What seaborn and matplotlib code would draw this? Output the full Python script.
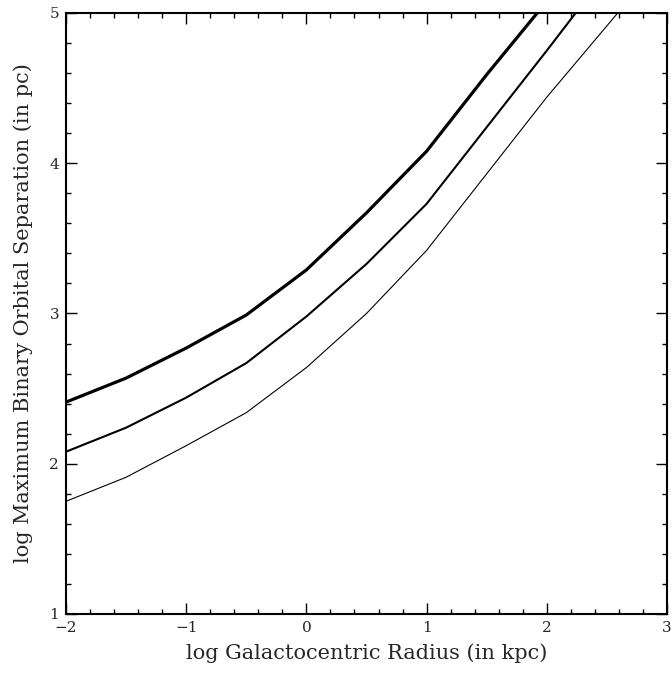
import numpy as np
import pandas as pd
import matplotlib
matplotlib.use("Agg")
import matplotlib.pyplot as plt
import seaborn as sns
from matplotlib.ticker import MultipleLocator

# Data
x_thick = [-2.0, -1.5, -1.0, -0.5, 0.0, 0.5, 1.0, 1.5, 1.92]
y_thick = [2.41, 2.57, 2.77, 2.99, 3.29, 3.67, 4.08, 4.59, 5.00]

x_mid = [-2.0, -1.5, -1.0, -0.5, 0.0, 0.5, 1.0, 1.5, 2.0, 2.24]
y_mid = [2.08, 2.24, 2.44, 2.67, 2.98, 3.33, 3.73, 4.24, 4.75, 5.00]

x_thin = [-2.0, -1.5, -1.0, -0.5, 0.0, 0.5, 1.0, 1.5, 2.0, 2.59]
y_thin = [1.75, 1.91, 2.12, 2.34, 2.64, 3.00, 3.42, 3.93, 4.44, 5.00]

sns.set_style("ticks")
plt.rcParams['font.family'] = ['DejaVu Serif', 'DejaVu Sans']

fig = plt.figure(figsize=(6.72, 6.73), dpi=100)
ax = fig.add_axes([0.0982, 0.0877, 0.8944, 0.8930])

for xs, ys, lw in [(x_thick, y_thick, 2.3), (x_mid, y_mid, 1.5), (x_thin, y_thin, 0.8)]:
    df = pd.DataFrame({"x": xs, "y": ys})
    sns.lineplot(data=df, x="x", y="y", ax=ax, color="black", linewidth=lw, sort=False)

ax.set_xlim(-2, 3)
ax.set_ylim(1, 5)
ax.xaxis.set_major_locator(MultipleLocator(1))
ax.xaxis.set_minor_locator(MultipleLocator(0.2))
ax.yaxis.set_major_locator(MultipleLocator(1))
ax.yaxis.set_minor_locator(MultipleLocator(0.2))
ax.tick_params(which="both", direction="in", top=True, right=True, color="black", width=1.0)
ax.tick_params(which="major", length=8, labelsize=11, pad=5)
ax.tick_params(which="minor", length=3.6)
for s in ax.spines.values():
    s.set_linewidth(1.5)
    s.set_color("black")

ax.set_xlabel("log Galactocentric Radius (in kpc)", fontsize=15, labelpad=6)
ax.set_ylabel("log Maximum Binary Orbital Separation (in pc)", fontsize=15, labelpad=12)

fig.savefig("out.png", dpi=100)
